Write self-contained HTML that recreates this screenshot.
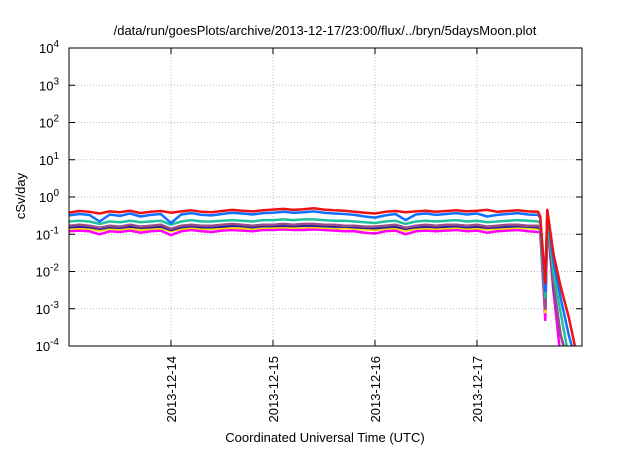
<!DOCTYPE html>
<html><head><meta charset="utf-8"><style>
body{margin:0;background:#fff;}
svg{font-family:"Liberation Sans",sans-serif;}
</style></head><body>
<svg id="chart" width="640" height="448" xmlns="http://www.w3.org/2000/svg">
<text x="325" y="35" font-size="13" text-anchor="middle">/data/run/goesPlots/archive/2013-12-17/23:00/flux/../bryn/5daysMoon.plot</text>
<text transform="translate(25,196) rotate(-90)" font-size="13" text-anchor="middle">cSv/day</text>
<text x="325" y="442" font-size="13" text-anchor="middle">Coordinated Universal Time (UTC)</text>
<g id="grid"></g><g id="series"></g><g id="axes"></g>
</svg>
<script>
const xTickLabels=["2013-12-14","2013-12-15","2013-12-16","2013-12-17"];
const xTickDays=[1,2,3,4];
const yTickExps=[-4,-3,-2,-1,0,1,2,3,4];
const times=[0,0.1,0.2,0.3,0.4,0.5,0.6,0.7,0.8,0.9,1.0,1.1,1.2,1.3,1.4,1.5,1.6,1.7,1.8,1.9,2.0,2.1,2.2,2.3,2.4,2.5,2.6,2.7,2.8,2.9,3.0,3.1,3.2,3.3,3.4,3.5,3.6,3.7,3.8,3.9,4.0,4.1,4.2,4.3,4.4,4.5,4.6,4.62,4.67,4.69,4.75,4.82,4.9,4.96];
const red=[0.38,0.42,0.40,0.36,0.41,0.39,0.43,0.37,0.40,0.42,0.38,0.41,0.44,0.40,0.39,0.42,0.45,0.43,0.41,0.44,0.46,0.48,0.45,0.47,0.50,0.46,0.44,0.43,0.40,0.38,0.36,0.40,0.42,0.39,0.41,0.43,0.40,0.42,0.44,0.41,0.43,0.45,0.40,0.42,0.44,0.41,0.40,0.3,0.005,0.45,0.03,0.004,0.0006,0.0001];
const blue=[0.32,0.35,0.33,0.22,0.34,0.31,0.36,0.30,0.33,0.35,0.20,0.34,0.37,0.33,0.32,0.35,0.38,0.36,0.34,0.37,0.38,0.40,0.38,0.39,0.41,0.38,0.36,0.35,0.33,0.30,0.28,0.32,0.35,0.24,0.34,0.36,0.33,0.35,0.37,0.34,0.36,0.30,0.33,0.35,0.37,0.34,0.33,0.28,0.003,0.40,0.02,0.002,0.0002,0.00005];
const teal=[0.22,0.23,0.22,0.19,0.22,0.21,0.23,0.21,0.22,0.23,0.18,0.22,0.24,0.22,0.22,0.23,0.24,0.23,0.22,0.24,0.24,0.25,0.24,0.25,0.25,0.24,0.23,0.23,0.22,0.21,0.20,0.22,0.23,0.19,0.22,0.23,0.22,0.23,0.24,0.22,0.23,0.21,0.22,0.23,0.24,0.23,0.22,0.2,0.002,0.3,0.01,0.0008,0.00005,0.00001];
const purple=[0.17,0.18,0.17,0.15,0.17,0.16,0.18,0.16,0.17,0.18,0.14,0.17,0.18,0.17,0.17,0.18,0.19,0.18,0.17,0.18,0.18,0.19,0.18,0.19,0.19,0.18,0.18,0.17,0.17,0.16,0.16,0.17,0.18,0.15,0.17,0.18,0.17,0.18,0.18,0.17,0.18,0.16,0.17,0.18,0.18,0.17,0.17,0.15,0.001,0.25,0.005,0.0002,0.00003,0.00001];
const navy=[0.155,0.16,0.155,0.14,0.155,0.15,0.16,0.15,0.155,0.16,0.13,0.155,0.165,0.155,0.155,0.16,0.17,0.165,0.155,0.165,0.165,0.17,0.165,0.17,0.17,0.165,0.16,0.16,0.155,0.15,0.145,0.155,0.16,0.14,0.155,0.16,0.155,0.16,0.165,0.155,0.16,0.15,0.155,0.16,0.165,0.16,0.155,0.14,0.001,0.24,0.004,0.0002,0.00003,0.00001];
const yellow=[0.14,0.145,0.14,0.125,0.14,0.135,0.145,0.13,0.14,0.145,0.12,0.14,0.15,0.14,0.14,0.145,0.15,0.145,0.14,0.15,0.15,0.155,0.15,0.155,0.155,0.15,0.145,0.145,0.14,0.135,0.13,0.14,0.145,0.125,0.14,0.145,0.14,0.145,0.15,0.14,0.145,0.135,0.14,0.145,0.15,0.145,0.14,0.13,0.0008,0.22,0.004,0.0002,0.00003,0.00001];
const magenta=[0.12,0.125,0.12,0.10,0.12,0.115,0.125,0.11,0.12,0.125,0.095,0.12,0.13,0.12,0.115,0.125,0.13,0.125,0.12,0.13,0.13,0.135,0.13,0.13,0.135,0.13,0.125,0.12,0.12,0.11,0.105,0.12,0.125,0.10,0.12,0.125,0.12,0.125,0.13,0.12,0.125,0.11,0.12,0.125,0.13,0.12,0.115,0.11,0.0005,0.2,0.003,0.00005,0.00001,0.00001];
const seriesList=[["series-magenta",magenta,"#ff00ff"],["series-yellow",yellow,"#ffd700"],["series-navy",navy,"#2020a0"],["series-purple",purple,"#9b4d8a"],["series-teal",teal,"#20c0a0"],["series-blue",blue,"#1070ff"],["series-red",red,"#ee1111"]];
const X0=69,X1=582,Y0=346,Y1=48,D0=0,D1=5.03;
const xs=d=>X0+(d-D0)/(D1-D0)*(X1-X0);
const ys=v=>Y0-(Math.log10(v)+4)/8*(Y0-Y1);
const NS="http://www.w3.org/2000/svg";
function mk(tag,attrs,parent){const e=document.createElementNS(NS,tag);for(const k in attrs)e.setAttribute(k,attrs[k]);parent.appendChild(e);return e;}
const grid=document.getElementById('grid'),ser=document.getElementById('series'),axes=document.getElementById('axes');
const svg=document.getElementById('chart');
const cp=mk('clipPath',{id:'clip'},svg);mk('rect',{x:X0,y:Y1,width:X1-X0,height:Y0-Y1},cp);
ser.setAttribute('clip-path','url(#clip)');
yTickExps.forEach(e=>{const y=ys(Math.pow(10,e));
 if(e>-4&&e<4){const g=mk('line',{x1:X0,x2:X1,y1:y,y2:y,stroke:'#bbb','stroke-dasharray':'1,2'},grid);
 
 }
 const t1=mk('line',{x1:X0,x2:X0+6,y1:y,y2:y,stroke:'#000'},axes);
 
 
 const t2=mk('line',{x1:X1-6,x2:X1,y1:y,y2:y,stroke:'#000'},axes);
 
 
 const tx=mk('text',{x:X0-10,y:y+5,'font-size':'13','text-anchor':'end'},axes);
 
 
 tx.innerHTML='10<tspan dy="-6" font-size="10">'+e+'</tspan>';
});
xTickDays.forEach((d,i)=>{const x=xs(d);
 const g=mk('line',{x1:x,x2:x,y1:Y1,y2:Y0,stroke:'#bbb','stroke-dasharray':'1,2'},grid);
 
 
 const t1=mk('line',{x1:x,x2:x,y1:Y0-6,y2:Y0,stroke:'#000'},axes);
 
 
 const t2=mk('line',{x1:x,x2:x,y1:Y1,y2:Y1+6,stroke:'#000'},axes);
 
 
 const tx=mk('text',{transform:'translate('+(x+5)+','+(Y0+10)+') rotate(-90)','font-size':'13','text-anchor':'end'},axes);
 
 
 tx.textContent=xTickLabels[i];
});
const fr=mk('rect',{x:X0,y:Y1,width:X1-X0,height:Y0-Y1,fill:'none',stroke:'#000','stroke-width':'1'},axes);


seriesList.forEach(s=>{
 const pts=s[1].map((v,i)=>xs(times[i]).toFixed(1)+','+ys(v).toFixed(1)).join(' ');
 const p=mk('polyline',{points:pts,fill:'none',stroke:s[2],'stroke-width':'2.5','stroke-linejoin':'round'},ser);
 
 
});
</script>
</body></html>
